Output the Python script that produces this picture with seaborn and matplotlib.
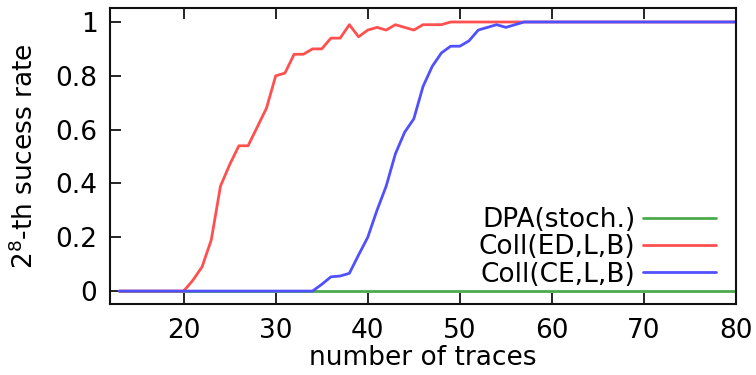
import numpy as np
import pandas as pd
import seaborn as sns
import matplotlib
matplotlib.use("Agg")
import matplotlib.pyplot as plt

# Number of traces used in the attack
traces = list(range(13, 81))

# Success rate of recovering the 2^8-th candidate
dpa_stoch = [0.0] * len(traces)

coll_ed = ([0.0] * 7 +                       # 13..19
           [0.0, 0.04, 0.09, 0.19, 0.39, 0.47, 0.54, 0.54, 0.61, 0.68,   # 20..29
            0.80, 0.81, 0.88, 0.88, 0.90, 0.90, 0.94, 0.94, 0.99, 0.945, # 30..39
            0.97, 0.98, 0.97, 0.99, 0.98, 0.97, 0.99, 0.99, 0.99, 1.0]   # 40..49
           + [1.0] * 31)                     # 50..80

coll_ce = ([0.0] * 21 +                      # 13..33
           [0.0, 0.025, 0.053, 0.056, 0.066, 0.134,                      # 34..39
            0.20, 0.30, 0.39, 0.51, 0.59, 0.64, 0.76, 0.835, 0.885, 0.91, # 40..49
            0.91, 0.93, 0.97, 0.98, 0.99, 0.98, 0.99, 1.0]               # 50..57
           + [1.0] * 23)                     # 58..80

labels = ["DPA(stoch.)", "Coll(ED,L,B)", "Coll(CE,L,B)"]
colors = ["#4caa4c", "#ff5050", "#5050ff"]

df = pd.DataFrame({
    "traces": traces * 3,
    "rate": dpa_stoch + coll_ed + coll_ce,
    "method": [labels[0]] * len(traces) + [labels[1]] * len(traces) + [labels[2]] * len(traces),
})

sns.set_theme(style="ticks")
plt.rcParams["font.family"] = ["DejaVu Sans"]
plt.rcParams["text.color"] = "black"
plt.rcParams["axes.labelcolor"] = "black"
plt.rcParams["xtick.color"] = "black"
plt.rcParams["ytick.color"] = "black"

fig = plt.figure(figsize=(7.56, 3.75), dpi=100)
ax = fig.add_axes([110 / 756, (375 - 304) / 375, 626 / 756, 296 / 375])

sns.lineplot(data=df, x="traces", y="rate", hue="method", hue_order=labels,
             palette=colors, linewidth=2.0, ax=ax, legend=False)

ax.set_xlim(12, 80)
ax.set_ylim(-0.048, 1.052)
ax.set_xticks([20, 30, 40, 50, 60, 70, 80])
ax.set_yticks([0, 0.2, 0.4, 0.6, 0.8, 1])
ax.set_yticklabels(["0", "0.2", "0.4", "0.6", "0.8", "1"])

fs = 19
ax.tick_params(axis="both", which="major", direction="in", length=8, width=1.2,
               labelsize=fs, pad=9, top=True, right=False,
               colors="black", labelcolor="black")
ax.tick_params(axis="x", pad=10)
for side in ax.spines.values():
    side.set_linewidth(1.5)
    side.set_color("#111111")

ax.set_xlabel("number of traces", fontsize=fs, labelpad=1, color="black")
ax.set_ylabel(r"$2^8$-th sucess rate", fontsize=fs, labelpad=12, color="black")

handles = [plt.Line2D([], [], color=c, linewidth=2.0) for c in colors]
leg = ax.legend(handles, labels, loc="lower right", bbox_to_anchor=(0.968, 0.055),
                frameon=False, markerfirst=False, fontsize=fs, handlelength=2.75,
                handletextpad=0.3, labelspacing=0.05, borderpad=0, borderaxespad=0)
for t in leg.get_texts():
    t.set_color("black")

fig.savefig("out.png", dpi=100)
